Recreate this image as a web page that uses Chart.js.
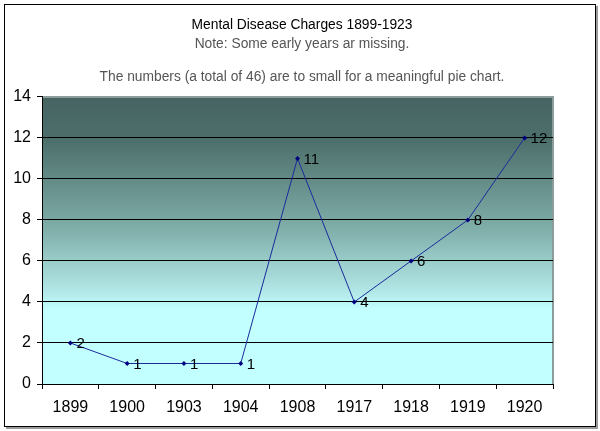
<!DOCTYPE html>
<html>
<head>
<meta charset="utf-8">
<script src="https://cdn.jsdelivr.net/npm/chart.js@4/dist/chart.umd.min.js"></script>
<style>
  html, body { margin: 0; padding: 0; background: #fff; }
  #wrap { width: 600px; height: 431px; position: relative; }
</style>
</head>
<body>
<div id="wrap"><canvas id="chart" width="600" height="431"></canvas></div>
<script>
var years = ["1899", "1900", "1903", "1904", "1908", "1917", "1918", "1919", "1920"];
var charges = [2, 1, 1, 1, 11, 4, 6, 8, 12];
var titleText = "Mental Disease Charges 1899-1923";
var noteLines = [
  "Note: Some early years ar missing.",
  "",
  "The numbers (a total of 46) are to small for a meaningful pie chart."
];

// gradient behind the plot area + outer frame
var backgroundPlugin = {
  id: "plotBackground",
  beforeDraw: function(chart) {
    var ctx = chart.ctx;
    var a = chart.chartArea;
    ctx.save();
    ctx.fillStyle = "#ffffff";
    ctx.fillRect(0, 0, chart.width, chart.height);

    // frame with a small grey shadow
    ctx.strokeStyle = "#9a9a9a";
    ctx.lineWidth = 2;
    ctx.beginPath();
    ctx.moveTo(6, 428);
    ctx.lineTo(597, 428);
    ctx.lineTo(597, 6);
    ctx.stroke();
    ctx.strokeStyle = "#000000";
    ctx.lineWidth = 1;
    ctx.strokeRect(4.5, 4.5, 591, 422);

    var grad = ctx.createLinearGradient(0, a.top, 0, a.bottom);
    grad.addColorStop(0, "#466462");
    grad.addColorStop(0.15, "#4d6f6b");
    grad.addColorStop(0.45, "#7eaca7");
    grad.addColorStop(0.68, "#b2e8e8");
    grad.addColorStop(0.74, "#c2ffff");
    grad.addColorStop(1, "#c2ffff");
    ctx.fillStyle = grad;
    ctx.fillRect(a.left, a.top, a.right - a.left, a.bottom - a.top);

    // grey plot border on top and right
    ctx.strokeStyle = "#8c9c9a";
    ctx.lineWidth = 2;
    ctx.beginPath();
    ctx.moveTo(a.left, a.top);
    ctx.lineTo(a.right, a.top);
    ctx.lineTo(a.right, a.bottom);
    ctx.stroke();
    ctx.restore();
  }
};

// value labels right of each point
var valueLabels = {
  id: "valueLabels",
  afterDatasetsDraw: function(chart) {
    var ctx = chart.ctx;
    var meta = chart.getDatasetMeta(0);
    ctx.save();
    ctx.font = "15px 'Liberation Sans', Arial, sans-serif";
    ctx.fillStyle = "#000";
    ctx.textAlign = "left";
    ctx.textBaseline = "middle";
    meta.data.forEach(function(pt, i) {
      ctx.fillText(String(charges[i]), pt.x + 6, pt.y + 1);
    });
    ctx.restore();
  }
};

new Chart(document.getElementById("chart"), {
  type: "line",
  data: {
    labels: years,
    datasets: [{
      data: charges,
      borderColor: "#1a2a9c",
      borderWidth: 1,
      pointStyle: "rectRot",
      pointRadius: 2.5,
      pointBackgroundColor: "#000080",
      pointBorderColor: "#000080",
      pointBorderWidth: 0,
      tension: 0,
      fill: false
    }]
  },
  plugins: [backgroundPlugin, valueLabels],
  options: {
    responsive: false,
    animation: false,
    layout: { padding: { left: 4, right: 0, top: 0, bottom: 0 } },
    plugins: {
      legend: { display: false },
      tooltip: { enabled: false },
      title: {
        display: true,
        text: titleText,
        color: "#000",
        font: { family: "'Liberation Sans', Arial, sans-serif", size: 13.8, weight: "normal", lineHeight: 1.2 },
        padding: { top: 17, bottom: 2 }
      },
      subtitle: {
        display: true,
        text: noteLines,
        color: "#555555",
        font: { family: "'Liberation Sans', Arial, sans-serif", size: 13.8, lineHeight: 1.2 },
        padding: { top: 0, bottom: 11.7 }
      }
    },
    scales: {
      x: {
        offset: true,
        grid: {
          offset: true,
          drawOnChartArea: false,
          drawTicks: true,
          tickLength: 5,
          color: "#000"
        },
        border: { color: "#000", width: 1 },
        ticks: {
          color: "#000",
          padding: 9,
          maxRotation: 0,
          font: { family: "'Liberation Sans', Arial, sans-serif", size: 16 }
        },
        afterFit: function(s) { s.height = 47; }
      },
      y: {
        min: 0,
        max: 14,
        ticks: {
          stepSize: 2,
          color: "#000",
          padding: 6,
          font: { family: "'Liberation Sans', Arial, sans-serif", size: 16 }
        },
        grid: {
          color: function(c) { return c.tick && c.tick.value === 14 ? "rgba(0,0,0,0)" : "#000"; },
          tickColor: "#000",
          tickLength: 5,
          lineWidth: 1
        },
        border: { color: "#000", width: 1 },
        afterFit: function(s) { s.width = 38; }
      },
      // empty right-hand margin so the titles stay centred on the page
      spacer: {
        type: "linear",
        position: "right",
        grid: { drawOnChartArea: false, drawTicks: false },
        border: { display: false },
        ticks: { display: false },
        afterFit: function(s) { s.width = 47; }
      }
    }
  }
});
</script>
</body>
</html>
